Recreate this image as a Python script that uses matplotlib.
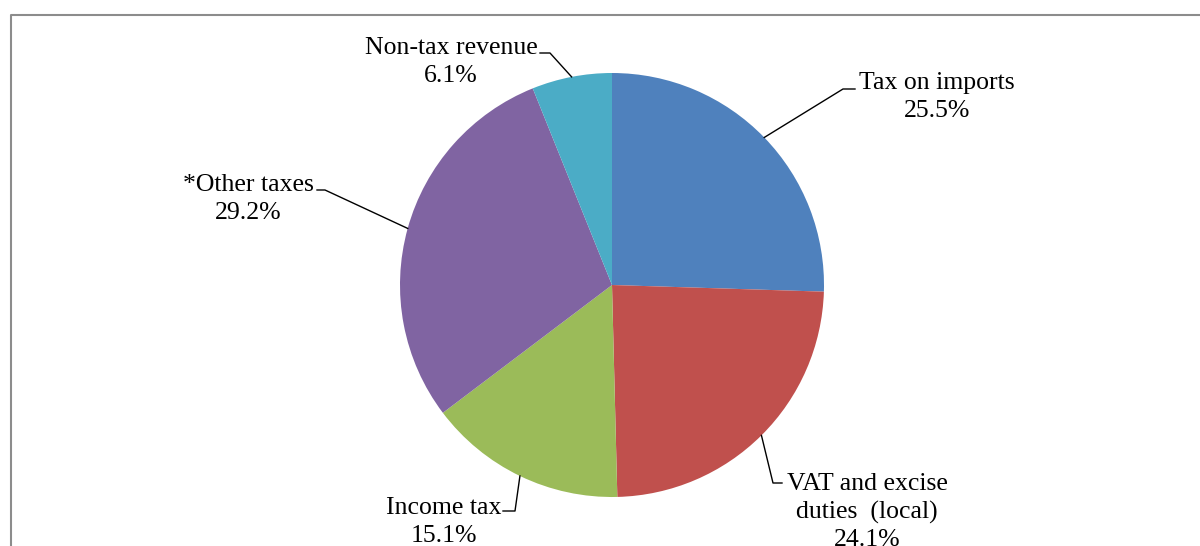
import matplotlib.pyplot as plt
import numpy as np

plt.rcParams['font.family'] = ['Liberation Serif', 'DejaVu Serif']

# data
categories = ["Tax on imports", "VAT and excise\nduties  (local)", "Income tax",
              "*Other taxes", "Non-tax revenue"]
shares = [25.5, 24.1, 15.1, 29.2, 6.1]
colors = ["#4F81BD", "#C0504D", "#9BBB59", "#8064A2", "#4BACC6"]

W, H = 1200, 546
CX, CY, R = 612, 285, 212  # pie centre/radius in pixels (from top)

# label layout: knee of leader line, end of leader line, text centre, (pixels from top)
knees = [(843, 89), (773, 483), (515, 511), (325, 190), (550, 53)]
ends = [(855, 89), (782, 483), (503, 511), (317, 190), (540, 53)]
text_pos = [(937, 97), (867, 512), (444, 522), (248, 199), (451, 62)]


def fy(y):
    return H - y


fig = plt.figure(figsize=(W / 100, H / 100), dpi=100)
ax = fig.add_axes([0, 0, 1, 1])

wedges, _ = ax.pie(shares, colors=colors, startangle=90, counterclock=False,
                   center=(CX, fy(CY)), radius=R,
                   wedgeprops=dict(linewidth=0))
ax.set_xlim(0, W)
ax.set_ylim(0, H)
ax.axis('off')

# leader lines and labels
for w, lab, val, k, e, t in zip(wedges, categories, shares, knees, ends, text_pos):
    ang = np.deg2rad((w.theta1 + w.theta2) / 2)
    ax0 = CX + R * np.cos(ang)
    ay0 = fy(CY) + R * np.sin(ang)
    ax.plot([ax0, k[0], e[0]], [ay0, fy(k[1]), fy(e[1])], color='black', lw=1.0)
    ax.text(t[0], fy(t[1]), f"{lab}\n{val:.1f}%", ha='center', va='center',
            multialignment='center', fontsize=18.5, linespacing=1.33)

# chart area border
ax.plot([10.5, 10.5, W + 5], [-5, fy(14.5), fy(14.5)], color='#8c8c8c', lw=1.5,
        clip_on=False)

fig.savefig("out.png", dpi=100)
